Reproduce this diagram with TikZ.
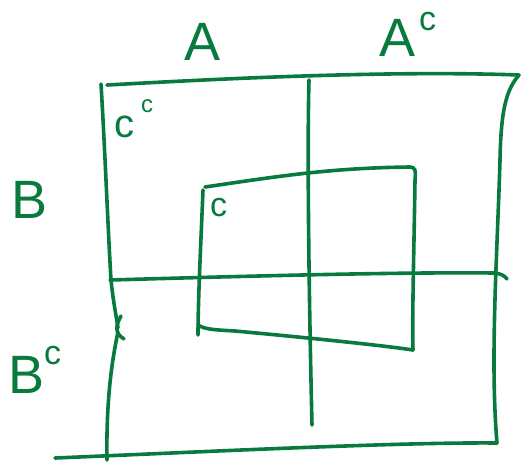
\documentclass[tikz,border=0pt]{standalone}
\usepackage{fontspec}
\setmainfont{Liberation Sans}
\definecolor{pen}{RGB}{8,122,62}
\tikzset{
  ink/.style={draw=pen, line width=3.6pt, line cap=round, line join=round},
  biglab/.style={text=pen, font=\fontsize{54}{54}\selectfont, inner sep=0pt},
  suplab/.style={text=pen, font=\fontsize{34}{34}\selectfont, inner sep=0pt},
  midlab/.style={text=pen, font=\fontsize{40}{40}\selectfont, inner sep=0pt},
  smalllab/.style={text=pen, font=\fontsize{24}{24}\selectfont, inner sep=0pt},
}
\begin{document}
\begin{tikzpicture}[x=1pt,y=-1pt]
\useasboundingbox (0,0) rectangle (521,464);
% outer frame
\draw[ink] (107,85) .. controls (200,80) and (380,70) .. (519,75);
\draw[ink] (519,75) .. controls (506,90) and (501,110) .. (500,160) .. controls (497,260) and (490,360) .. (497,443);
\draw[ink] (55,458) .. controls (200,452) and (400,442) .. (497,443);
\draw[ink] (101,84) .. controls (105,150) and (108,230) .. (111,280) .. controls (113,300) and (116,315) .. (118,328);
\draw[ink] (121,316) .. controls (116,325) and (114,333) .. (124,339);
\draw[ink] (118,332) .. controls (112,360) and (106,400) .. (107,460);
% partition lines
\draw[ink] (309,80) .. controls (307,150) and (309,300) .. (312,425);
\draw[ink] (110,280) .. controls (250,276) and (400,272) .. (494,273) .. controls (500,273) and (505,276) .. (507,279);
% inner box
\draw[ink] (205,187) .. controls (280,176) and (330,168) .. (410,167) .. controls (415,167) and (416,170) .. (415,180) .. controls (414,250) and (412,320) .. (413,350);
\draw[ink] (203,190) .. controls (201,240) and (198,300) .. (198,335);
\draw[ink] (198,325) .. controls (205,330) and (220,330) .. (235,331) .. controls (300,337) and (380,345) .. (413,350);
% labels
\node[biglab] (A) at (203,42) {A};
\node[biglab] (Ac) at (398,38) {A};
\node[suplab, anchor=base west] (Acs) at (419,30) {c};
\node[biglab] (B) at (30,200) {B};
\node[biglab] (Bc) at (27,375) {B};
\node[suplab, anchor=base west] (Bcs) at (44,364) {c};
\node[midlab, anchor=base west] (Cc) at (114,137) {c};
\node[smalllab, anchor=base west] (Ccs) at (141,112) {c};
\node[suplab, anchor=base west] (C) at (210,216) {c};
\end{tikzpicture}
\end{document}
